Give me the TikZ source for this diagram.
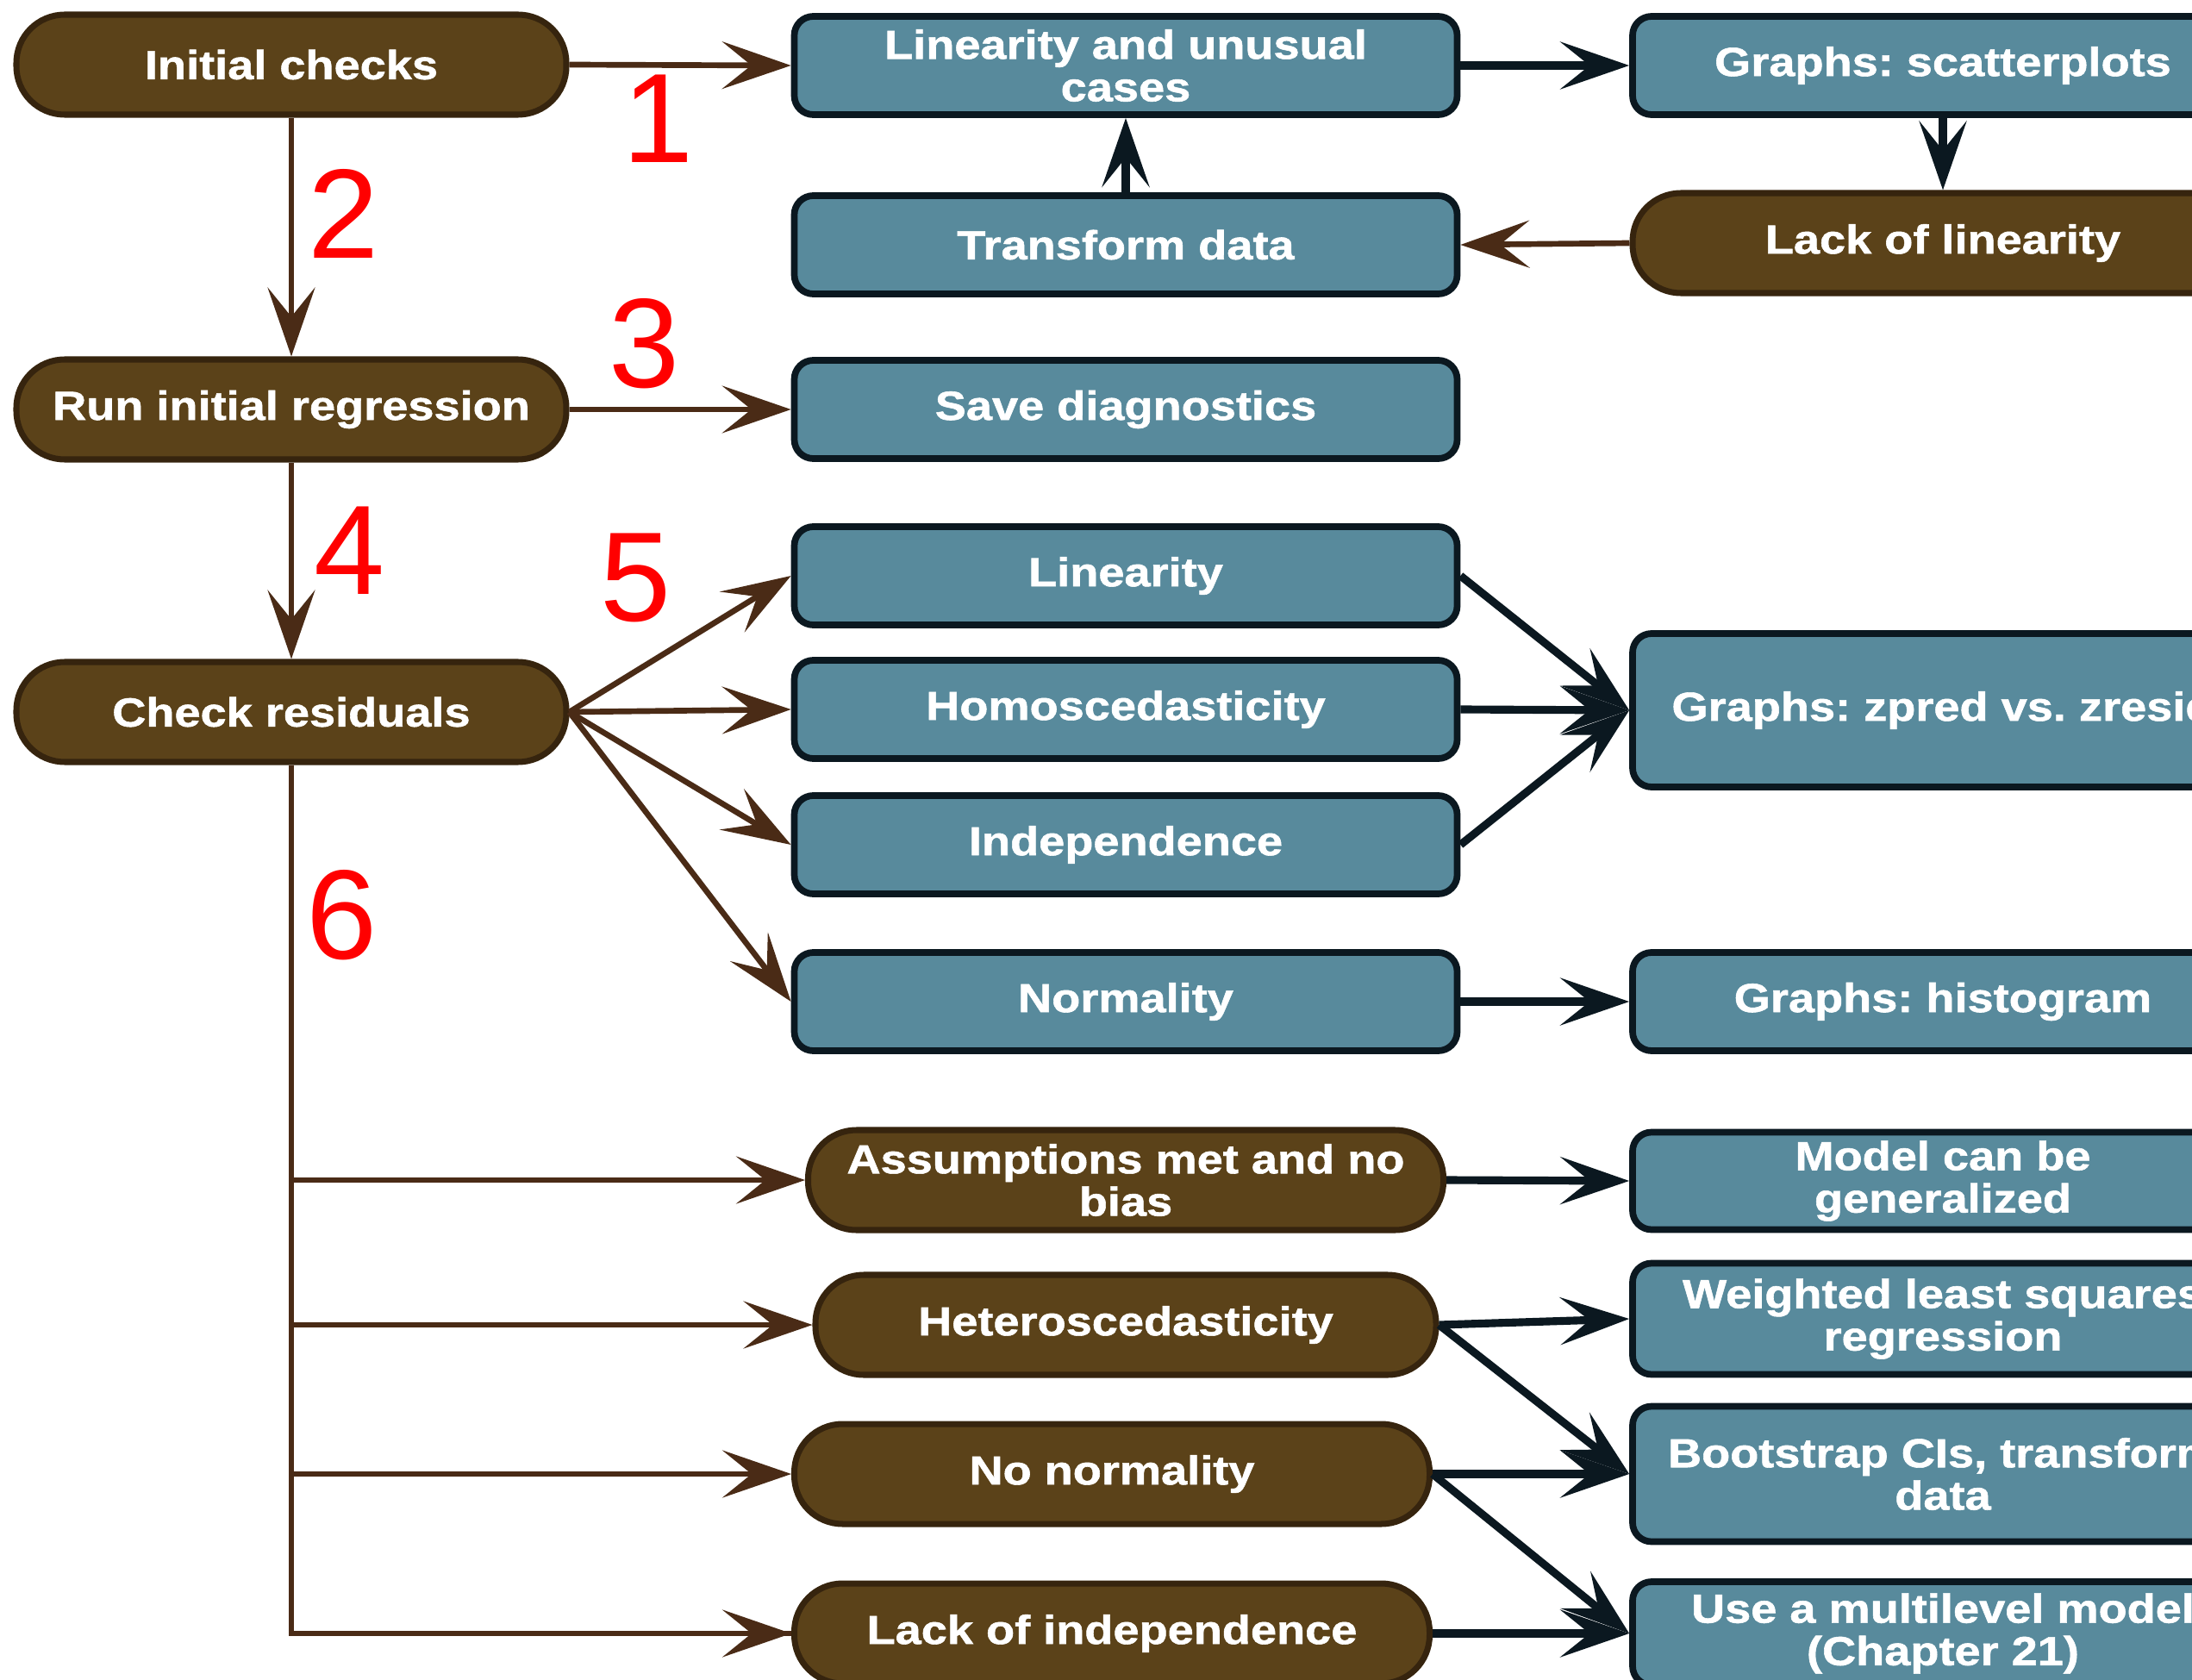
\documentclass[tikz,border=0pt]{standalone}
\usepackage{fontspec}
\usepackage{xcolor}
\usetikzlibrary{arrows.meta}

\newfontfamily\boxfont[FakeStretch=1.15, BoldFeatures={FakeBold=1.2}]{Liberation Sans}
\newfontfamily\numfont{Liberation Sans}
\definecolor{boxblue}{HTML}{588A9C}
\definecolor{boxbrown}{HTML}{5B4219}
\definecolor{edgebrown}{HTML}{36240E}
\definecolor{arrowbrown}{HTML}{4A2B16}
\definecolor{edgeblack}{HTML}{0B1820}
\frenchspacing

\begin{document}
\begin{tikzpicture}[
  every node/.style={text=white, font=\boxfont\bfseries\fontsize{13.4}{14}\selectfont, align=center, inner sep=0pt},
  bluebox/.style={draw=edgeblack, fill=boxblue, line width=2.2pt, rounded corners=0.22cm, minimum width=7.69cm, minimum height=1.14cm},
  brownpill/.style={draw=edgebrown, fill=boxbrown, line width=2pt, rounded corners=0.56cm, minimum width=6.38cm, minimum height=1.16cm},
  brarrow/.style={draw=arrowbrown, line width=1.9pt, -{Stealth[length=0.8cm, width=0.55cm, inset=0.34cm]}},
  bkarrow/.style={draw=edgeblack, line width=2.6pt, -{Stealth[length=0.8cm, width=0.55cm, inset=0.34cm]}},
  stepnum/.style={text=red, font=\numfont\fontsize{42}{42}\selectfont}
]
  % Fix the frame and cut off what runs past the right and bottom edges
  \useasboundingbox (0,0) rectangle (25.43,-19.49);
  \clip (0,0) rectangle (25.43,-19.49);

  % Left column
  \node[brownpill] (init) at (3.38,-0.75) {Initial checks};
  \node[brownpill] (runreg) at (3.38,-4.75) {Run initial regression};
  \node[brownpill] (checkres) at (3.38,-8.26) {Check residuals};

  % Middle column
  \node[bluebox] (lincases) at (13.06,-0.76) {Linearity and unusual\\cases};
  \node[bluebox] (transform) at (13.06,-2.84) {Transform data};
  \node[bluebox] (savediag) at (13.06,-4.75) {Save diagnostics};
  \node[bluebox] (linear) at (13.06,-6.68) {Linearity};
  \node[bluebox] (homo) at (13.06,-8.23) {Homoscedasticity};
  \node[bluebox] (indep) at (13.06,-9.80) {Independence};
  \node[bluebox] (normal) at (13.06,-11.62) {Normality};
  \node[brownpill, minimum width=7.37cm] (assume) at (13.06,-13.69) {Assumptions met and no\\bias};
  \node[brownpill, minimum width=7.20cm] (hetero) at (13.06,-15.37) {Heteroscedasticity};
  \node[brownpill, minimum width=7.37cm] (nonorm) at (12.90,-17.10) {No normality};
  \node[brownpill, minimum width=7.37cm] (lackind) at (12.90,-18.95) {Lack of independence};

  % Right column
  \node[bluebox, minimum width=7.2cm] (scatter) at (22.54,-0.76) {Graphs: scatterplots};
  \node[brownpill, minimum width=7.2cm] (lacklin) at (22.54,-2.82) {Lack of linearity};
  \node[bluebox, minimum width=7.2cm, minimum height=1.78cm] (zpred) at (22.54,-8.24) {Graphs: zpred vs. zresid};
  \node[bluebox, minimum width=7.2cm] (hist) at (22.54,-11.62) {Graphs: histogram};
  \node[bluebox, minimum width=7.2cm, minimum height=1.13cm] (model) at (22.54,-13.70) {Model can be\\generalized};
  \node[bluebox, minimum width=7.2cm, minimum height=1.29cm] (wls) at (22.54,-15.30) {Weighted least squares\\regression};
  \node[bluebox, minimum width=7.2cm, minimum height=1.57cm] (boot) at (22.54,-17.10) {Bootstrap CIs, transform\\data};
  \node[bluebox, minimum width=7.2cm, minimum height=1.2cm] (multi) at (22.54,-18.95) {Use a multilevel model\\(Chapter 21)};

  % Step numbers
  \node[stepnum] (n1) at (7.64,-1.38) {1};
  \node[stepnum] (n2) at (3.99,-2.48) {2};
  \node[stepnum] (n3) at (7.48,-3.99) {3};
  \node[stepnum] (n4) at (4.06,-6.39) {4};
  \node[stepnum] (n5) at (7.38,-6.70) {5};
  \node[stepnum] (n6) at (3.97,-10.62) {6};

  % Main flow
  \draw[brarrow] (init.east) -- (lincases.west);
  \draw[brarrow] (init.south) -- (runreg.north);
  \draw[brarrow] (runreg.east) -- (savediag.west);
  \draw[brarrow] (runreg.south) -- (checkres.north);

  % Linearity loop
  \draw[bkarrow] (lincases.east) -- (scatter.west);
  \draw[bkarrow] (scatter.south) -- (lacklin.north);
  \draw[brarrow] (lacklin.west) -- (transform.east);
  \draw[bkarrow] (transform.north) -- (lincases.south);

  % Residual checks
  \foreach \t in {linear, homo, indep, normal}
    \draw[brarrow] (checkres.east) -- (\t.west);
  \foreach \t in {linear, homo, indep}
    \draw[bkarrow] (\t.east) -- (zpred.west);
  \draw[bkarrow] (normal.east) -- (hist.west);

  % Outcomes
  \draw[arrowbrown, line width=1.9pt] (checkres.south) |- (lackind.west);
  \foreach \t in {assume, hetero, nonorm, lackind}
    \draw[brarrow] (checkres.south |- \t.west) -- (\t.west);
  \draw[bkarrow] (assume.east) -- (model.west);
  \draw[bkarrow] (hetero.east) -- (wls.west);
  \draw[bkarrow] (hetero.east) -- (boot.west);
  \draw[bkarrow] (nonorm.east) -- (boot.west);
  \draw[bkarrow] (nonorm.east) -- (multi.west);
  \draw[bkarrow] (lackind.east) -- (multi.west);
\end{tikzpicture}
\end{document}
